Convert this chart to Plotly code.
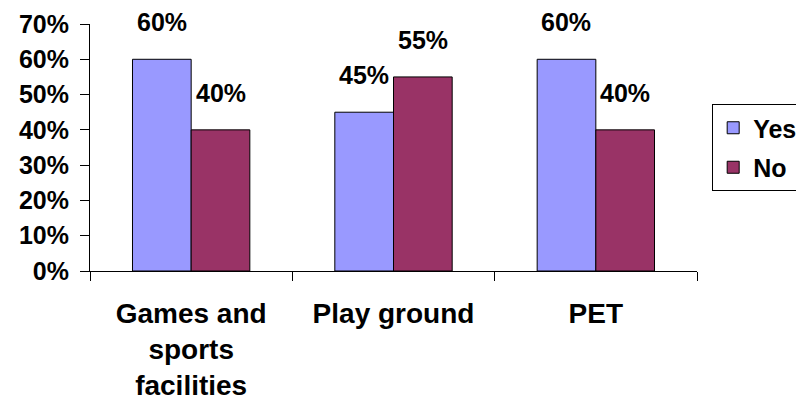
import plotly.graph_objects as go

categories = ["Games and<br>sports<br>facilities", "Play ground", "PET"]
yes_values = [0.60, 0.45, 0.60]
no_values = [0.40, 0.55, 0.40]
series_names = ["Yes", "No"]
colors = ["#9999FF", "#993366"]

FONT = "Liberation Sans, Arial, sans-serif"

fig = go.Figure()
for name, vals, col in zip(series_names, [yes_values, no_values], colors):
    fig.add_trace(go.Bar(
        x=categories, y=vals, name=name, legendgroup=name,
        marker=dict(color=col, line=dict(color="black", width=1)),
    ))

L, R, T, B = 82, 115, 16, 140
bargap = 0.42
bar_px = (804 - L - R) / 3 * (1 - bargap) / 2
annotations = []
for vals, sign in [(yes_values, -1), (no_values, 1)]:
    for c, v in zip(categories, vals):
        annotations.append(dict(
            x=c, y=v, xref="x", yref="y", text=f"{round(v*100)}%",
            showarrow=False, yanchor="bottom", xanchor="center",
            xshift=sign * bar_px / 2, yshift=21,
            font=dict(family=FONT, size=25, color="black", weight="bold"),
        ))

fig.update_layout(
    width=804, height=403,
    margin=dict(l=L, r=R, t=T, b=B, autoexpand=False),
    paper_bgcolor="white", plot_bgcolor="white",
    font=dict(family=FONT, size=25, color="black", weight="bold"),
    barmode="group", bargap=bargap, bargroupgap=0,
    showlegend=True,
    legend=dict(
        x=1.025, xanchor="left", y=0.5, yanchor="middle",
        bordercolor="black", borderwidth=1, bgcolor="white",
        traceorder="grouped", tracegroupgap=4,
        font=dict(family=FONT, size=25, color="black", weight="bold"),
    ),
    annotations=annotations,
    xaxis=dict(
        type="category", tickson="boundaries", ticks="outside", ticklen=9,
        tickcolor="black", showline=True, linecolor="black", linewidth=1,
        showgrid=False, tickfont=dict(size=28), ticklabelstandoff=17,
    ),
    yaxis=dict(
        range=[0, 0.7], dtick=0.1, tickformat=".0%", ticks="outside", ticklen=9,
        tickcolor="black", showline=True, linecolor="black", linewidth=1,
        showgrid=False, zeroline=False, ticklabelstandoff=6,
    ),
)

fig.write_html("out.html")
